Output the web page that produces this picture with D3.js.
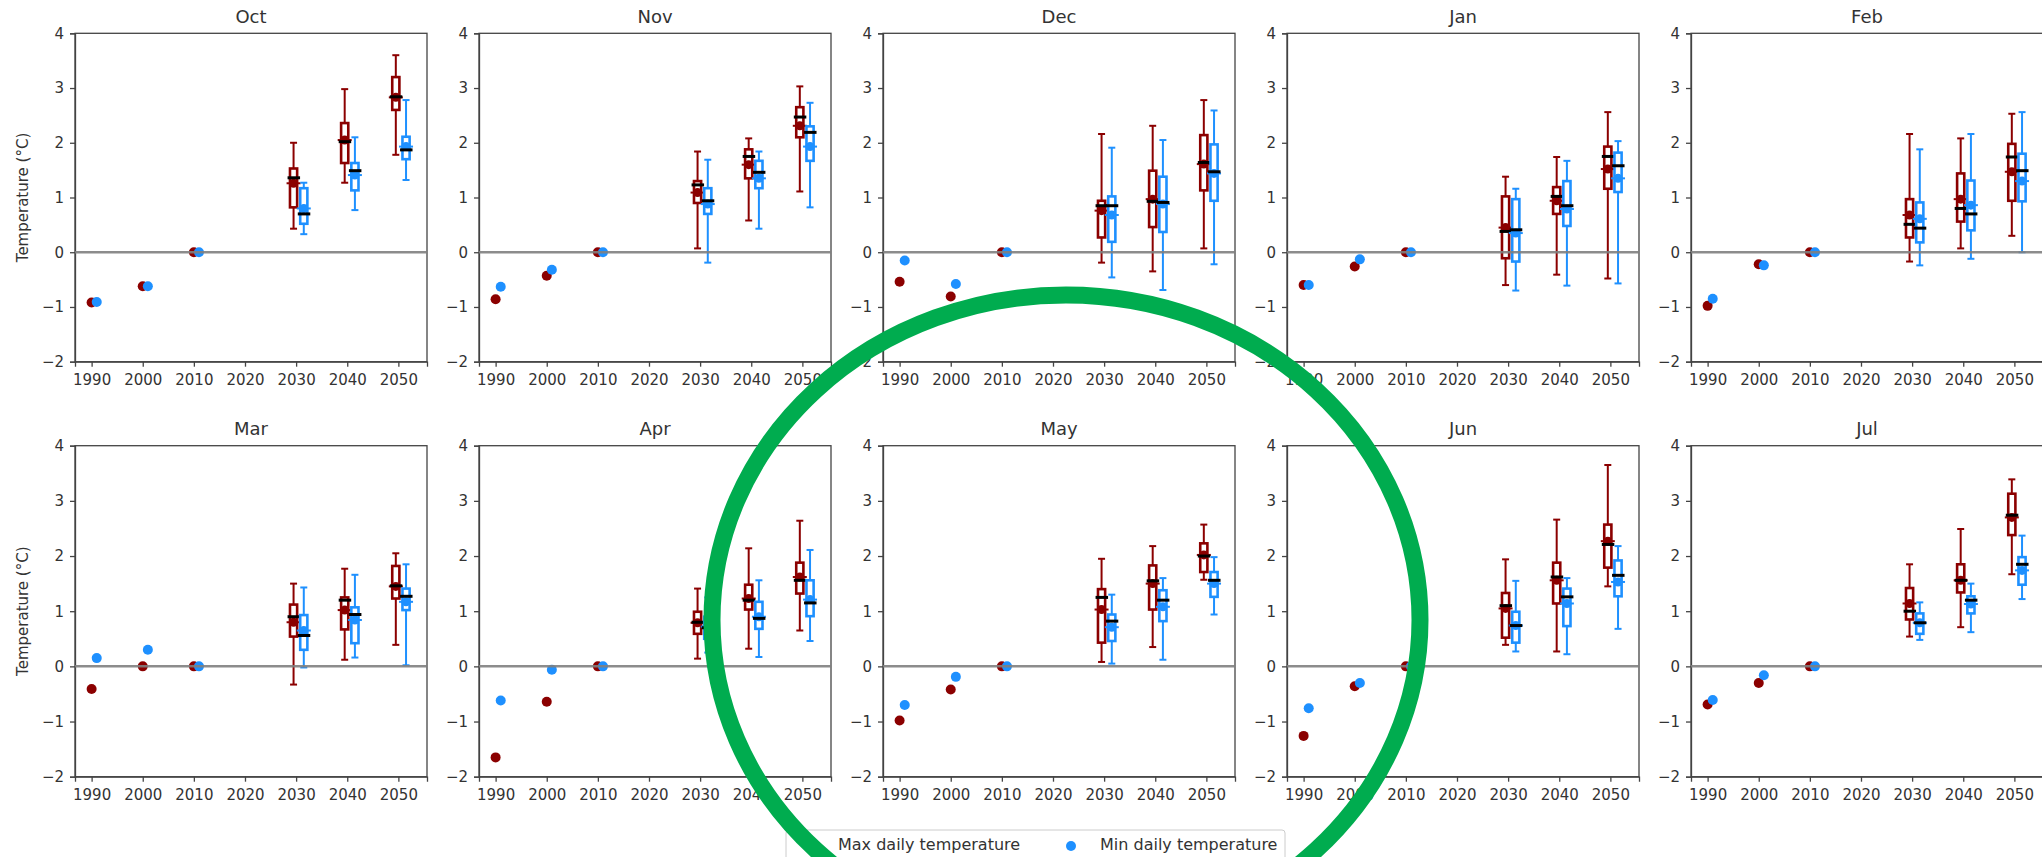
<!DOCTYPE html>
<html>
<head>
<meta charset="utf-8">
<script src="https://cdn.jsdelivr.net/npm/d3@7"></script>
<style>
body { margin: 0; background: #fff; }
svg text { font-family: "DejaVu Sans", sans-serif; fill: #333; }
.axis path, .axis line { stroke: #444; stroke-width: 1.3px; }
.axis text { font-size: 15px; fill: #333; }
</style>
</head>
<body>
<svg class="chart" width="2042" height="857"></svg>
<script>
var months = ["Oct", "Nov", "Dec", "Jan", "Feb", "Mar", "Apr", "May", "Jun", "Jul"];
var histYears = [1990, 2000, 2010];
var projYears = [2030, 2040, 2050];
var xTicks = [1990, 2000, 2010, 2020, 2030, 2040, 2050];
var yTicks = [-2, -1, 0, 1, 2, 3, 4];

// anomaly vs 2010 (°C), one row per month, columns = histYears
var histMax = [
    [-0.92, -0.62, 0], [-0.86, -0.43, 0], [-0.54, -0.81, 0], [-0.60, -0.26, 0], [-0.98, -0.22, 0],
    [-0.41, 0.00, 0], [-1.65, -0.64, 0], [-0.98, -0.42, 0], [-1.26, -0.36, 0], [-0.69, -0.30, 0]
];
var histMin = [
    [-0.91, -0.62, 0], [-0.63, -0.32, 0], [-0.15, -0.58, 0], [-0.60, -0.13, 0], [-0.85, -0.24, 0],
    [0.15, 0.30, 0], [-0.62, -0.06, 0], [-0.70, -0.19, 0], [-0.76, -0.30, 0], [-0.61, -0.16, 0]
];

// projections per month, per projYear: [whisker low, q1, median, q3, whisker high, mean]
var projMax = [
    [[0.43, 0.82, 1.36, 1.53, 2.00, 1.26], [1.27, 1.63, 2.02, 2.36, 2.98, 2.05], [1.78, 2.60, 2.84, 3.20, 3.60, 2.83]],
    [[0.07, 0.90, 1.23, 1.30, 1.84, 1.09], [0.58, 1.35, 1.75, 1.88, 2.08, 1.60], [1.11, 2.10, 2.47, 2.65, 3.03, 2.31]],
    [[-0.19, 0.27, 0.85, 0.94, 2.16, 0.76], [-0.35, 0.46, 0.93, 1.49, 2.31, 0.97], [0.07, 1.13, 1.64, 2.14, 2.78, 1.61]],
    [[-0.60, -0.11, 0.38, 1.02, 1.38, 0.45], [-0.41, 0.70, 1.02, 1.19, 1.74, 0.94], [-0.48, 1.16, 1.75, 1.93, 2.56, 1.52]],
    [[-0.17, 0.27, 0.51, 0.97, 2.16, 0.68], [0.07, 0.56, 0.80, 1.44, 2.08, 0.97], [0.30, 0.94, 1.74, 1.98, 2.53, 1.47]],
    [[-0.33, 0.54, 0.90, 1.12, 1.50, 0.80], [0.12, 0.67, 1.20, 1.25, 1.77, 1.02], [0.39, 1.23, 1.46, 1.82, 2.05, 1.45]],
    [[0.14, 0.59, 0.80, 0.99, 1.41, 0.79], [0.32, 1.03, 1.20, 1.48, 2.14, 1.23], [0.65, 1.32, 1.56, 1.88, 2.64, 1.62]],
    [[0.08, 0.43, 1.25, 1.40, 1.95, 1.03], [0.35, 1.03, 1.55, 1.83, 2.18, 1.50], [1.57, 1.71, 2.00, 2.23, 2.57, 2.02]],
    [[0.39, 0.52, 1.10, 1.33, 1.94, 1.05], [0.27, 1.14, 1.62, 1.88, 2.66, 1.56], [1.45, 1.79, 2.21, 2.57, 3.65, 2.27]],
    [[0.54, 0.85, 1.00, 1.42, 1.85, 1.14], [0.71, 1.34, 1.56, 1.85, 2.49, 1.56], [1.67, 2.38, 2.74, 3.13, 3.39, 2.70]]
];
var projMin = [
    [[0.33, 0.52, 0.70, 1.17, 1.27, 0.80], [0.77, 1.13, 1.49, 1.63, 2.10, 1.41], [1.32, 1.70, 1.87, 2.11, 2.78, 1.93]],
    [[-0.19, 0.70, 0.94, 1.17, 1.69, 0.88], [0.43, 1.17, 1.46, 1.67, 1.84, 1.35], [0.82, 1.67, 2.19, 2.30, 2.73, 1.93]],
    [[-0.46, 0.19, 0.85, 1.02, 1.91, 0.68], [-0.69, 0.37, 0.91, 1.38, 2.05, 0.88], [-0.22, 0.94, 1.47, 1.97, 2.59, 1.44]],
    [[-0.70, -0.17, 0.41, 0.97, 1.16, 0.35], [-0.61, 0.48, 0.85, 1.30, 1.67, 0.79], [-0.57, 1.10, 1.58, 1.82, 2.03, 1.35]],
    [[-0.24, 0.18, 0.44, 0.91, 1.88, 0.61], [-0.12, 0.40, 0.70, 1.31, 2.16, 0.86], [0.00, 0.93, 1.49, 1.80, 2.56, 1.30]],
    [[-0.02, 0.30, 0.56, 0.93, 1.43, 0.65], [0.16, 0.42, 0.94, 1.07, 1.66, 0.84], [0.02, 1.02, 1.27, 1.41, 1.85, 1.17]],
    [[0.25, 0.50, 0.70, 0.90, 1.25, 0.72], [0.17, 0.68, 0.87, 1.17, 1.56, 0.90], [0.46, 0.91, 1.15, 1.56, 2.11, 1.21]],
    [[0.05, 0.46, 0.82, 0.94, 1.30, 0.71], [0.12, 0.82, 1.20, 1.38, 1.60, 1.08], [0.94, 1.26, 1.56, 1.71, 1.98, 1.50]],
    [[0.27, 0.43, 0.74, 0.99, 1.55, 0.74], [0.22, 0.73, 1.26, 1.41, 1.60, 1.14], [0.68, 1.27, 1.65, 1.92, 2.18, 1.53]],
    [[0.48, 0.59, 0.79, 0.96, 1.16, 0.79], [0.62, 0.96, 1.20, 1.27, 1.50, 1.13], [1.22, 1.48, 1.85, 1.98, 2.37, 1.74]]
];

var seriesNames = ["Max daily temperature", "Min daily temperature"];
var seriesColors = ["#8b0000", "#1e90ff"];

var svg = d3.select("svg.chart");

// layout of the 2 x 5 grid
var panelW = 352,
    colLeft = function(c) { return 75 + 404 * c; },
    rowTop = [33.3, 445.7],
    rowH = [328.4, 331];

var histOffset = [0, 1];      // min dots shifted one year right
var boxOffset = [-0.5, 1.5];  // boxes either side of the decade
var boxYears = 1.4;

var panel = function(m) {
    var col = m % 5, row = Math.floor(m / 5);
    var g = svg.append("g")
        .attr("transform", "translate(" + colLeft(col) + "," + rowTop[row] + ")");
    var h = rowH[row];

    var x = d3.scaleLinear().domain([1986.75, 2055.6]).range([0, panelW]);
    var y = d3.scaleLinear().domain([-2, 4]).range([h, 0]);

    g.append("g")
        .attr("class", "axis")
        .attr("transform", "translate(0," + h + ")")
        .call(d3.axisBottom(x).tickValues(xTicks).tickFormat(d3.format("d")).tickSize(5).tickPadding(8));
    g.append("g")
        .attr("class", "axis")
        .call(d3.axisLeft(y).tickValues(yTicks).tickFormat(d3.format("d")).tickSize(5).tickPadding(6));

    g.append("rect")
        .attr("width", panelW)
        .attr("height", h)
        .attr("fill", "none")
        .attr("stroke", "#444")
        .attr("stroke-width", 1.3);

    g.append("text")
        .attr("x", panelW / 2)
        .attr("y", -17)
        .attr("text-anchor", "middle")
        .attr("dominant-baseline", "central")
        .style("font-size", "18px")
        .text(months[m]);

    if (col == 0) {
        g.append("text")
            .attr("transform", "translate(-52," + (h / 2) + ") rotate(-90)")
            .attr("text-anchor", "middle")
            .attr("dominant-baseline", "central")
            .style("font-size", "15px")
            .text("Temperature (°C)");
    }

    var hist = [histMax[m], histMin[m]];
    var proj = [projMax[m], projMin[m]];
    var bw = x(boxYears) - x(0);

    [0, 1].forEach(function(s) {
        var col_ = seriesColors[s];

        g.selectAll(".hist" + s)
            .data(hist[s])
            .enter().append("circle")
            .attr("class", "hist" + s)
            .attr("cx", function(d, i) { return x(histYears[i] + histOffset[s]); })
            .attr("cy", function(d) { return y(d); })
            .attr("r", 5)
            .attr("fill", col_);

        var bx = g.selectAll(".box" + s)
            .data(proj[s])
            .enter().append("g")
            .attr("class", "box" + s)
            .attr("transform", function(d, i) { return "translate(" + x(projYears[i] + boxOffset[s]) + ",0)"; });

        // whiskers
        bx.append("line")
            .attr("y1", function(d) { return y(d[0]); })
            .attr("y2", function(d) { return y(d[1]); })
            .attr("stroke", col_).attr("stroke-width", 2);
        bx.append("line")
            .attr("y1", function(d) { return y(d[3]); })
            .attr("y2", function(d) { return y(d[4]); })
            .attr("stroke", col_).attr("stroke-width", 2);
        // caps
        bx.append("line")
            .attr("x1", -3.5).attr("x2", 3.5)
            .attr("y1", function(d) { return y(d[0]); })
            .attr("y2", function(d) { return y(d[0]); })
            .attr("stroke", col_).attr("stroke-width", 2);
        bx.append("line")
            .attr("x1", -3.5).attr("x2", 3.5)
            .attr("y1", function(d) { return y(d[4]); })
            .attr("y2", function(d) { return y(d[4]); })
            .attr("stroke", col_).attr("stroke-width", 2);
        // box
        bx.append("rect")
            .attr("x", -bw / 2)
            .attr("width", bw)
            .attr("y", function(d) { return y(d[3]); })
            .attr("height", function(d) { return y(d[1]) - y(d[3]); })
            .attr("fill", "none")
            .attr("stroke", col_)
            .attr("stroke-width", 2.6);
        // mean marker
        bx.append("line")
            .attr("x1", -7).attr("x2", 7)
            .attr("y1", function(d) { return y(d[5]); })
            .attr("y2", function(d) { return y(d[5]); })
            .attr("stroke", col_).attr("stroke-width", 2);
        bx.append("circle")
            .attr("cy", function(d) { return y(d[5]); })
            .attr("r", 4.5)
            .attr("fill", col_);
        // median
        bx.append("line")
            .attr("x1", -6).attr("x2", 6.5)
            .attr("y1", function(d) { return y(d[2]); })
            .attr("y2", function(d) { return y(d[2]); })
            .attr("stroke", "#000").attr("stroke-width", 3);
    });

    // reference line at zero
    g.append("line")
        .attr("x1", 0).attr("x2", panelW)
        .attr("y1", y(0)).attr("y2", y(0))
        .attr("stroke", "#7f7f7f")
        .attr("stroke-opacity", 0.9)
        .attr("stroke-width", 2.5);
};

months.forEach(function(d, m) { panel(m); });

// legend
var legend = svg.append("g").attr("transform", "translate(786,830)");
legend.append("rect")
    .attr("width", 499).attr("height", 40)
    .attr("rx", 3)
    .attr("fill", "#fff")
    .attr("stroke", "#ccc");
var legX = [[22, 52], [285, 314]];
seriesNames.forEach(function(name, s) {
    legend.append("circle")
        .attr("cx", legX[s][0]).attr("cy", 16)
        .attr("r", 5)
        .attr("fill", seriesColors[s]);
    legend.append("text")
        .attr("x", legX[s][1]).attr("y", 14)
        .attr("dominant-baseline", "central")
        .style("font-size", "16px")
        .text(name);
});

// green highlight ring drawn over the figure
svg.append("ellipse")
    .attr("cx", 1066).attr("cy", 620)
    .attr("rx", 354).attr("ry", 325)
    .attr("fill", "none")
    .attr("stroke", "#00ac4f")
    .attr("stroke-width", 17);
</script>
</body>
</html>
